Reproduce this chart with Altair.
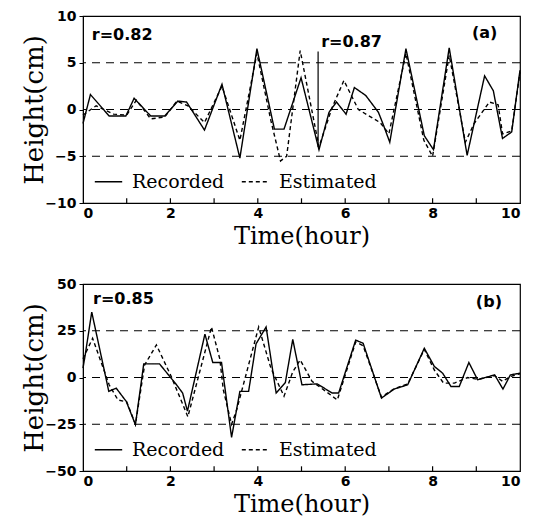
import altair as alt
import pandas as pd

# ---- panel (a) ----
ta_rec = [0, 0.17, 0.6, 0.98, 1.17, 1.55, 1.87, 2.17, 2.37, 2.78, 3.18, 3.59, 3.98, 4.38, 4.6, 4.99,
          5.4, 5.63, 5.8, 6.02, 6.21, 6.47, 6.76, 6.87, 7.02, 7.39, 7.81, 8.02, 8.38, 8.79, 9.19, 9.39,
          9.6, 9.81, 10.0]
va_rec = [-1.5, 1.6, -0.7, -0.7, 1.2, -0.7, -0.7, 0.9, 0.8, -2.2, 2.7, -5.2, 6.5, -2.1, -2.1, 3.4,
          -4.3, -0.3, 0.8, -0.5, 2.35, 1.5, -0.3, -1.6, -3.5, 6.5, -2.8, -4.3, 6.6, -4.9, 3.6, 2.0,
          -3.1, -2.4, 4.2]
ta_est = [0, 0.3, 0.7, 1.0, 1.22, 1.55, 1.87, 2.15, 2.4, 2.78, 3.18, 3.59, 3.98, 4.3, 4.52, 4.66,
          4.97, 5.4, 5.7, 5.97, 6.3, 6.8, 7.0, 7.39, 7.8, 8.0, 8.38, 8.75, 8.95, 9.3, 9.5, 9.6, 9.81, 10.0]
va_est = [-0.6, 0.4, -0.5, -0.6, 1.0, -1.0, -0.8, 0.9, 0.4, -1.4, 2.5, -3.3, 6.0, -1.2, -5.5, -5.0,
          6.3, -4.0, 0.2, 3.1, 0.0, -1.4, -2.6, 6.0, -3.3, -5.0, 5.8, -3.5, -1.5, 0.8, 0.5, -2.6, -2.3, 4.0]

# ---- panel (b) ----
tb_rec = [0, 0.05, 0.2, 0.59, 0.76, 0.99, 1.2, 1.39, 1.75, 2.14, 2.28, 2.39, 2.79, 2.97, 3.17, 3.4,
          3.59, 3.79, 3.96, 4.19, 4.42, 4.63, 4.8, 5.01, 5.36, 5.7, 5.85, 6.24, 6.41, 6.83, 7.12, 7.43,
          7.81, 8.04, 8.23, 8.42, 8.61, 8.83, 9.03, 9.42, 9.61, 9.78, 10.0]
vb_rec = [5, 12, 35, -7.4, -5.7, -12.8, -25.2, 7.3, 7.3, -3.9, -8.3, -18, 23.2, 8, 8, -32,
          -7.4, -7.4, 18, 27, -8.3, -2.7, 20.4, -3.9, -3.4, -8.3, -8.3, 20, 18.3, -11, -6.2, -3.9,
          15.6, 5.9, 2.3, -4.8, -4.8, 8, -1.2, 1.4, -6.2, 1.4, 2.3]
tb_est = [0, 0.22, 0.6, 0.8, 1.0, 1.2, 1.41, 1.68, 2.02, 2.4, 2.94, 3.13, 3.21, 3.4, 3.52, 3.9,
          4.02, 4.3, 4.6, 4.8, 4.97, 5.24, 5.82, 6.24, 6.41, 6.83, 7.12, 7.43, 7.81, 8.04, 8.25, 8.5,
          8.8, 9.03, 9.42, 9.6, 9.78, 10.0]
vb_est = [10, 21, -4, -12, -13, -25, 6.7, 17.4, 0.5, -21, 27, 10, -6.5, -25, -17, 16.5,
          27, 5, -10, 3, 9.4, -2, -12, 19, 17, -10.5, -6, -3.5, 15, 4, -3, -3,
          0, -1, 1, -2, 0.5, 2]

series = ["Recorded", "Estimated"]
x_ticks = [1, 2, 3, 4, 5, 6, 7, 8, 9]
notes_a = ["r=0.82", "r=0.87", "(a)"]
notes_a_t = [0.2, 5.45, 8.9]
notes_a_v = [8.0, 7.2, 8.2]
notes_b = ["r=0.85", "(b)"]
notes_b_t = [0.23, 8.99]
notes_b_v = [42, 40.4]
split_t = [5.38]
split_v = [-4.0]
split_v2 = [6.2]


def long(t1, v1, t2, v2):
    return pd.DataFrame({
        "t": t1 + t2,
        "v": v1 + v2,
        "s": [series[0]] * len(t1) + [series[1]] * len(t2),
    })


def panel(df, ydom, yvals, grid_vals, notes, rule_df=None):
    x = alt.X("t:Q", scale=alt.Scale(domain=[0, 10], nice=False),
              axis=alt.Axis(title="Time(hour)", values=[0, 2, 4, 6, 8, 10], ticks=False,
                            grid=False, labelPadding=3, titlePadding=4, titleFontSize=24))
    y = alt.Y("v:Q", scale=alt.Scale(domain=ydom, nice=False),
              axis=alt.Axis(title="Height(cm)", values=yvals, grid=False))
    lines = alt.Chart(df).mark_line(color="black", strokeWidth=1.4).encode(
        x=x, y=y,
        strokeDash=alt.StrokeDash("s:N", scale=alt.Scale(domain=series, range=[[1, 0], [4, 3]]),
                                  legend=alt.Legend(title=None, orient="bottom-left", direction="horizontal",
                                                    offset=11, symbolType="stroke", symbolSize=750,
                                                    symbolStrokeWidth=1.4, symbolStrokeColor="black",
                                                    labelFont="DejaVu Serif", labelFontSize=19,
                                                    labelColor="black", columnPadding=14, labelOffset=9,
                                                    padding=0)),
        order="idx:Q",
    ).transform_window(idx="row_number()", groupby=["s"])
    grid = alt.Chart(pd.DataFrame({"g": grid_vals})).mark_rule(
        color="black", strokeDash=[8, 6], strokeWidth=1).encode(y=alt.Y("g:Q"))
    tick_len = (ydom[1] - ydom[0]) * 0.025
    ticks = alt.Chart(pd.DataFrame({"t": x_ticks, "y0": [ydom[0]] * len(x_ticks),
                                    "y1": [ydom[0] + tick_len] * len(x_ticks)})).mark_rule(
        color="black", strokeWidth=1.2).encode(x="t:Q", y="y0:Q", y2="y1:Q")
    txt = alt.Chart(pd.DataFrame(notes)).mark_text(
        align="left", baseline="middle", font="DejaVu Sans", fontWeight="bold", fontSize=16,
        color="black").encode(x="t:Q", y="v:Q", text="label:N")
    layers = [grid, ticks, lines, txt]
    if rule_df is not None:
        layers.append(alt.Chart(rule_df).mark_rule(color="black", strokeWidth=1.2).encode(
            x="t:Q", y="v:Q", y2="v2:Q"))
    return alt.layer(*layers).properties(width=437, height=187)


pa = panel(long(ta_rec, va_rec, ta_est, va_est), [-10, 10], [-10, -5, 0, 5, 10], [-5, 0, 5],
           {"label": notes_a, "t": notes_a_t, "v": notes_a_v},
           pd.DataFrame({"t": split_t, "v": split_v, "v2": split_v2}))
pb = panel(long(tb_rec, vb_rec, tb_est, vb_est), [-50, 50], [-50, -25, 0, 25, 50], [-25, 0, 25],
           {"label": notes_b, "t": notes_b_t, "v": notes_b_v})

chart = alt.vconcat(pa, pb, spacing=27).resolve_legend(strokeDash="independent").properties(
    padding={"left": 13, "top": 0, "right": 5, "bottom": 0}
).configure_view(stroke="black", strokeWidth=1.2).configure_axis(
    domainColor="black", tickColor="black", labelColor="black", titleColor="black",
    labelFont="DejaVu Sans", labelFontWeight="bold", labelFontSize=14,
    titleFont="DejaVu Serif", titleFontWeight="normal", titleFontSize=26,
    tickSize=4, labelPadding=3,
).configure_axisY(titlePadding=-3)

chart.save("out.html", embed_options={"renderer": "svg", "actions": False})
